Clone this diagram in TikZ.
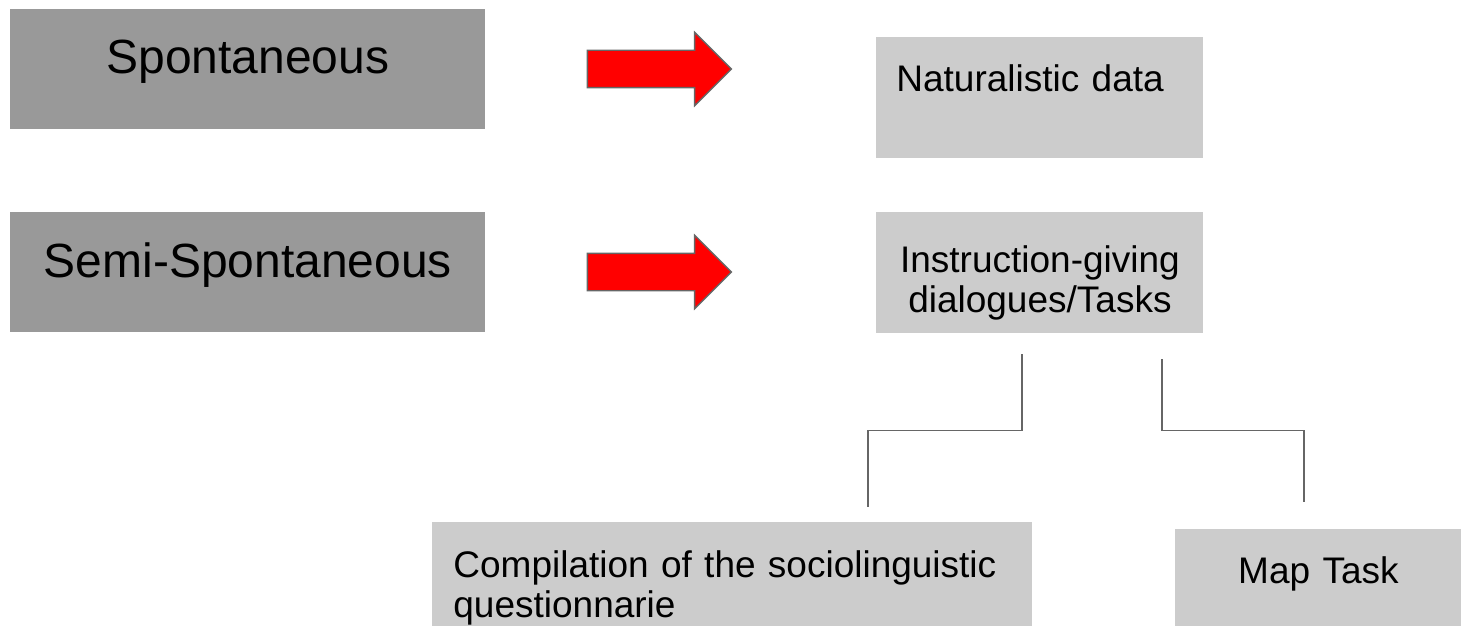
\documentclass[tikz,border=0pt]{standalone}
\usepackage{fontspec}
\setmainfont{Liberation Sans}
\usepackage{tikz}
\usetikzlibrary{shapes.arrows,calc}

\definecolor{boxdark}{HTML}{999999}
\definecolor{boxlight}{HTML}{CCCCCC}
\definecolor{linkgray}{HTML}{666666}

\begin{document}
\begin{tikzpicture}[x=0.5pt,y=-0.5pt,
		darkbox/.style={fill=boxdark, inner sep=0pt, anchor=north west,
			text width=237.5pt, align=center, font=\fontsize{24}{28}\selectfont},
		lightbox/.style={fill=boxlight, inner ysep=0pt, anchor=north west,
			font=\fontsize{18.5}{20}\selectfont},
		blockarrow/.style={single arrow, fill=red, draw=linkgray, line width=0.7pt,
			inner xsep=0pt, inner ysep=9pt, minimum height=72pt,
			single arrow head extend=9pt, single arrow tip angle=90},
		link/.style={draw=linkgray, line width=0.9pt}]
		\useasboundingbox (0,0) rectangle (1461,626);

		\node[darkbox, text height=32pt,   text depth=28pt  ] (spont) at (  10,  9) {Spontaneous};
		\node[darkbox, text height=32.5pt, text depth=27.5pt] (semi)  at (  10,212) {Semi-Spontaneous};

		\node[blockarrow] (arr1) at (650, 69) {};
		\node[blockarrow] (arr2) at (650,272) {};

		\node[lightbox, inner xsep=10pt, text width=143.5pt, align=left,
			text height=27pt, text depth=33.5pt] (natur) at ( 876, 37) {Naturalistic data};
		\node[lightbox, inner xsep=0pt, text width=163.5pt, align=center,
			text height=30pt, text depth=30.5pt] (instr) at ( 876,212) {Instruction-giving\\dialogues/Tasks};

		\node[lightbox, inner xsep=10.5pt, text width=279pt, align=left,
			text height=27.5pt, text depth=24.5pt] (compil) at ( 432,522) {Compilation of the sociolinguistic\\questionnarie};
		\node[lightbox, inner xsep=0pt, text width=143pt, align=center,
			text height=27pt, text depth=21.5pt] (map) at (1175,529) {Map Task};

		\coordinate (l1) at (1022,354);
		\coordinate (l2) at ( 868,507);
		\coordinate (r1) at (1162,359);
		\coordinate (r2) at (1304,502);

		\draw[link] (l1) |- ($(l1)!0.5!(l2)$) -| (l2);
		\draw[link] (r1) |- ($(r1)!0.5!(r2)$) -| (r2);
	\end{tikzpicture}
\end{document}
